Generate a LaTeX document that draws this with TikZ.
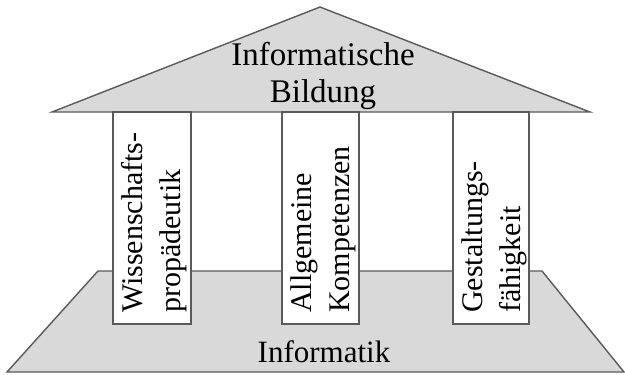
\documentclass[tikz,border=0pt]{standalone}
\usepackage{fontspec}
\setmainfont{Liberation Serif}
\begin{document}
\begin{tikzpicture}[x=1pt,y=-1pt,
  slab/.style={fill=slabgray,draw=edgegray,line width=1.4pt,line join=miter},
  pillar/.style={fill=white,draw=edgegray,line width=1.2pt},
  pillartext/.style={rotate=90,anchor=west,inner sep=0pt,align=left,
    font=\fontsize{30}{38}\selectfont},
  rooftext/.style={inner sep=0pt,align=center,font=\fontsize{33}{37}\selectfont},
  basetext/.style={inner sep=0pt,anchor=base,font=\fontsize{31}{31}\selectfont}]
\definecolor{slabgray}{HTML}{D9D9D9}
\definecolor{edgegray}{HTML}{5A5A5A}
\useasboundingbox (0,0) rectangle (625,375);

% roof
\draw[slab] (52,112) -- (320,7) -- (590,112) -- cycle;
% foundation
\draw[slab] (98,271) -- (542,271) -- (624,372) -- (7,372) -- cycle;

% pillars
\draw[pillar] (113,112) rectangle (191,324);
\draw[pillar] (282,112) rectangle (359,324);
\draw[pillar] (453,112) rectangle (529,324);

\node[pillartext] (p1) at (154.5,313) {Wissenschafts-\\propädeutik};
\node[pillartext] (p2) at (323,313) {Allgemeine\\Kompetenzen};
\node[pillartext] (p3) at (494,313) {Gestaltungs-\\fähigkeit};

\node[rooftext] (roof) at (323,76) {Informatische\\Bildung};
\node[basetext] (base) at (324,362) {Informatik};
\end{tikzpicture}
\end{document}
